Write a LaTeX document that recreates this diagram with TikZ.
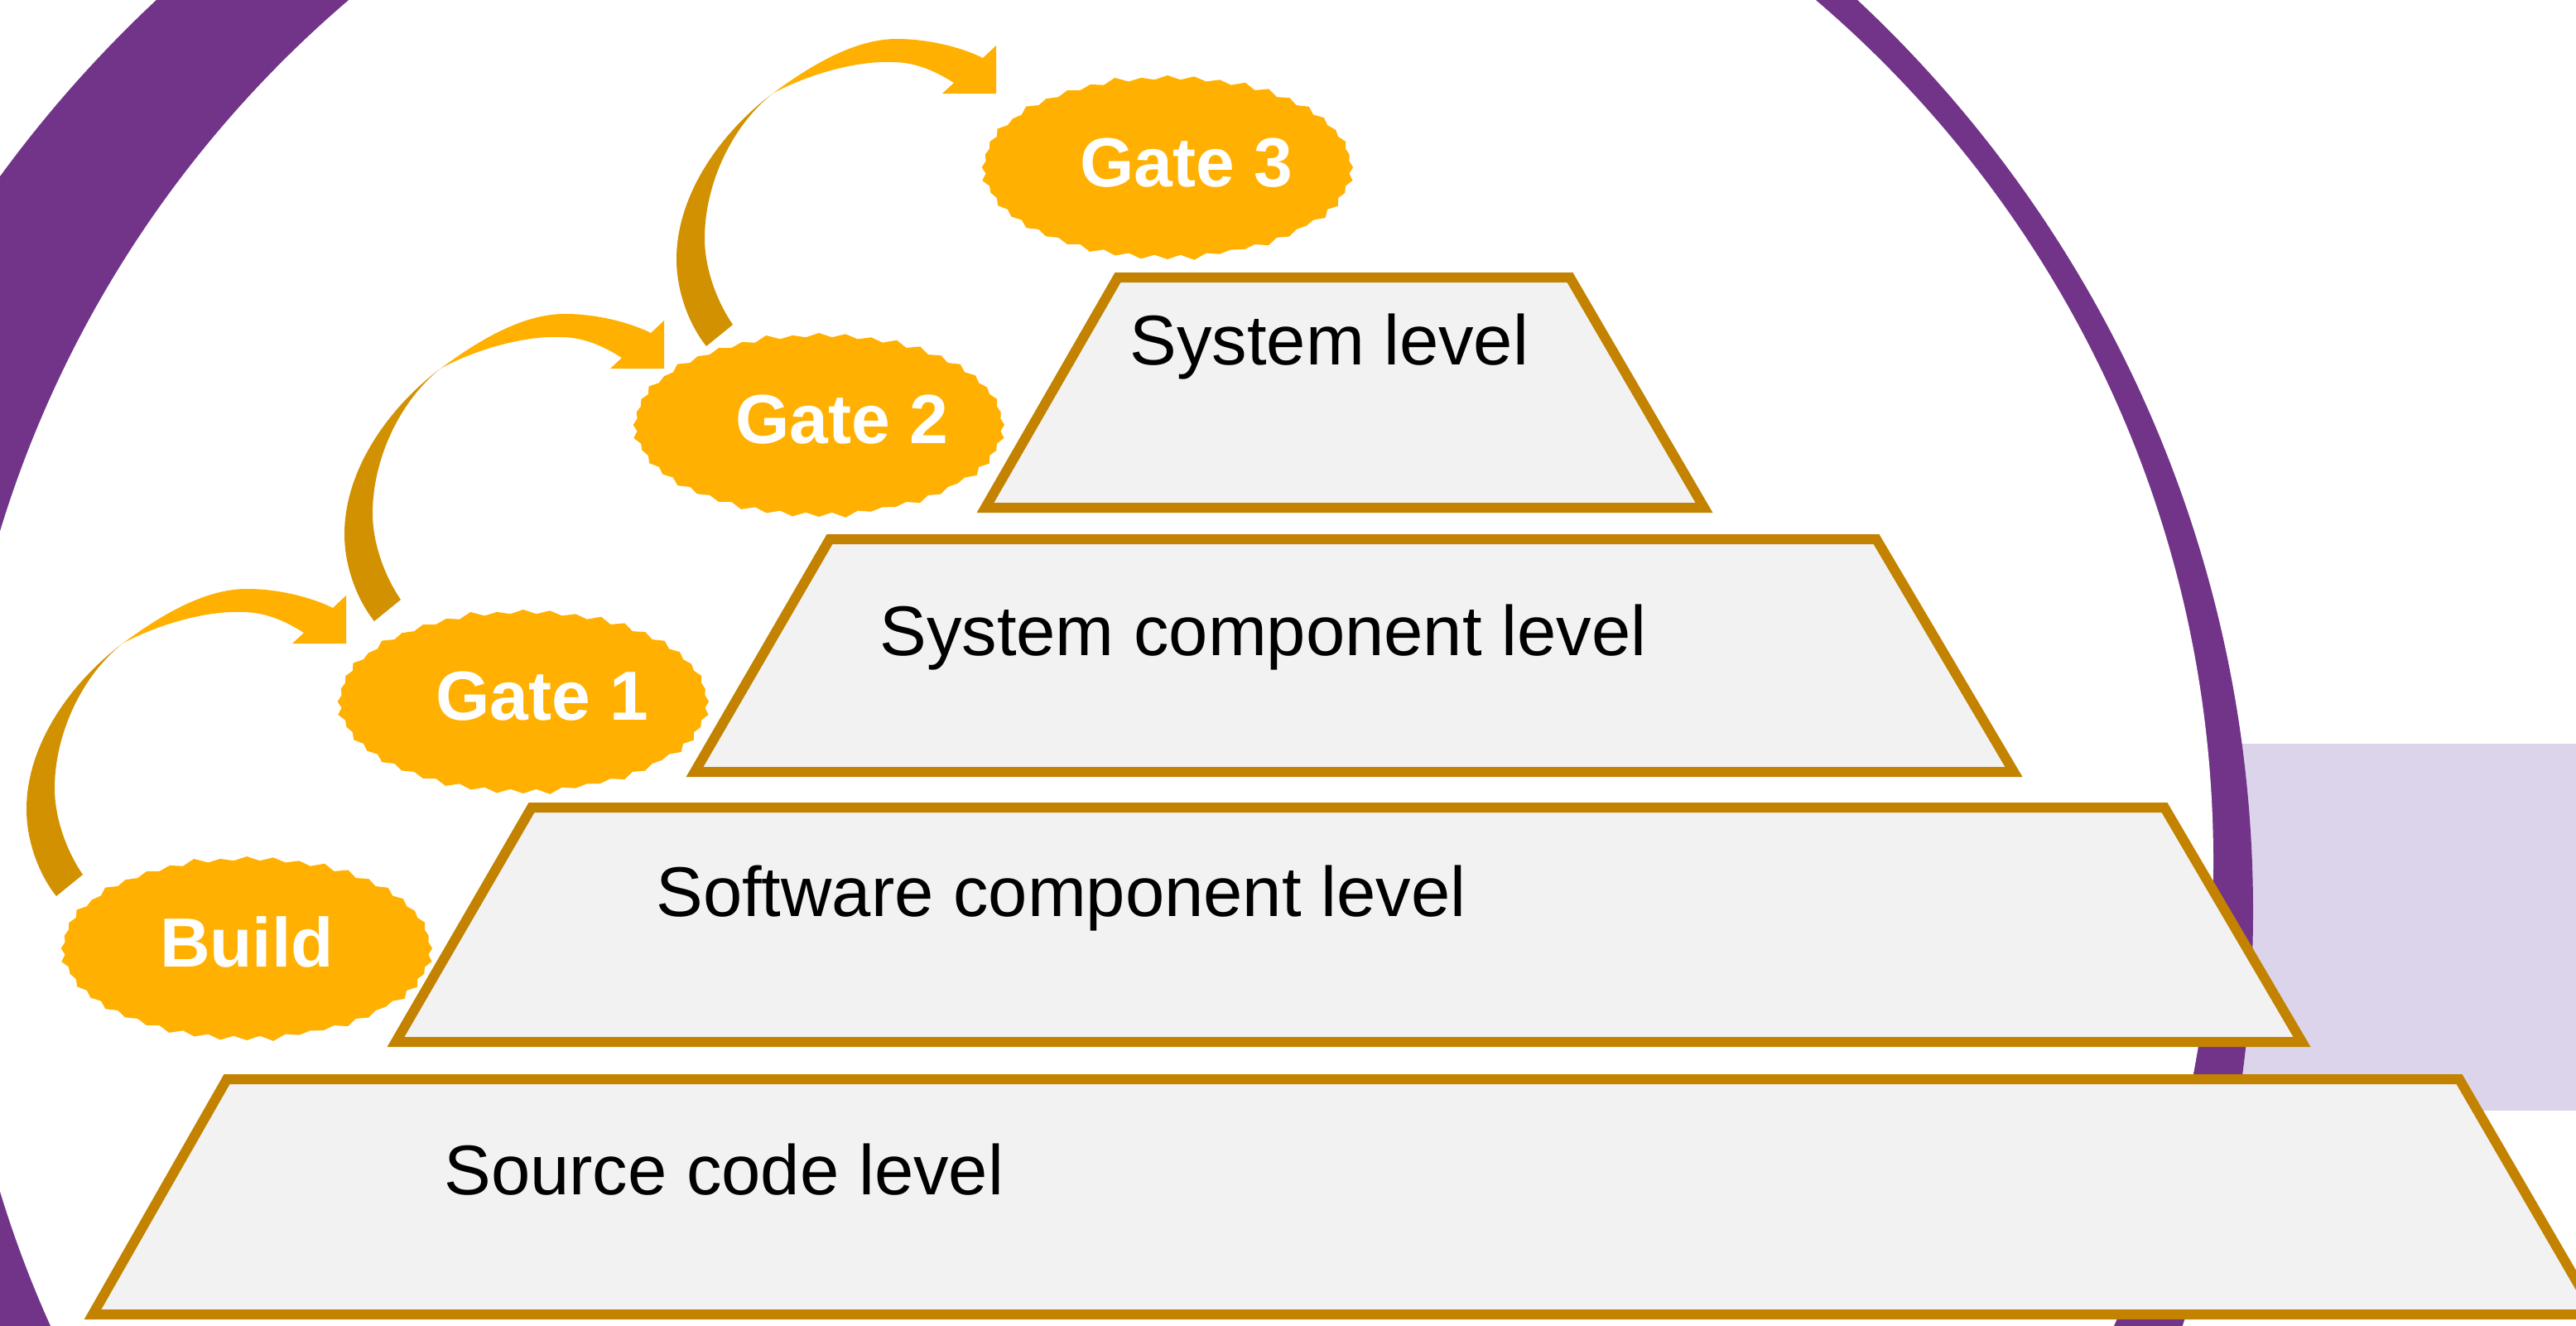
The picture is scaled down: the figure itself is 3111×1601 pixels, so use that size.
\documentclass[tikz,border=0pt]{standalone}
\usepackage{fontspec}
\setmainfont{Liberation Sans}
\usetikzlibrary{shapes.symbols}
\definecolor{ringpurple}{RGB}{113,52,137}
\definecolor{lavender}{RGB}{220,212,235}
\definecolor{goldline}{RGB}{195,130,0}
\definecolor{levelfill}{RGB}{242,242,242}
\definecolor{gateorange}{RGB}{255,176,0}
\definecolor{darkgold}{RGB}{210,145,0}
\newcommand{\curvedarrow}[1]{%
\begin{scope}[shift={(#1)}]
% orange upper band with arrow head
\fill[gateorange] (-270,0) .. controls (-215,-41) and (-165,-66) .. (-120,-66)
  .. controls (-80,-66) and (-40,-55) .. (-16,-43)
  -- (0,-58) -- (0,0) -- (-65,0) -- (-51,-13)
  .. controls (-70,-25) and (-95,-38) .. (-125,-38)
  .. controls (-170,-40) and (-230,-22) .. (-270,0) -- cycle;
% dark lower band
\fill[darkgold] (-270,0) .. controls (-330,45) and (-386,120) .. (-386,200)
  .. controls (-386,240) and (-370,280) .. (-350,305)
  -- (-318,279)
  .. controls (-338,250) and (-352,210) .. (-352,175)
  .. controls (-352,110) and (-320,40) .. (-270,0) -- cycle;
\end{scope}}
\begin{document}
\begin{tikzpicture}[x=0.5pt,y=-0.5pt,
  level/.style={draw=goldline, line width=6pt, fill=levelfill, line join=miter},
  leveltext/.style={anchor=base west, inner sep=0pt, font=\fontsize{42.5}{50}\selectfont, text=black},
  gate/.style={starburst, starburst points=44, starburst point height=3.5pt, fill=gateorange, draw=none, inner sep=0pt, minimum width=227pt, minimum height=113pt},
  gatetext/.style={anchor=base, inner sep=0pt, font=\fontsize{42}{50}\selectfont\bfseries, text=white}]
\useasboundingbox (0,0) rectangle (3111,1601);
\fill[white] (0,0) rectangle (3111,1601);
% background: lavender band and purple ring
\fill[lavender] (2600,898) rectangle (3111,1341);
\fill[ringpurple] (1216,1100) circle[radius=752.5pt];
\fill[white] (1307,1040) circle[radius=683pt];
% levels
\draw[level] (274,1303) -- (2970,1303) -- (3135,1587) -- (112,1587) -- cycle;
\draw[level] (642,975) -- (2614,975) -- (2780,1258) -- (478,1258) -- cycle;
\draw[level] (1002,651) -- (2266,651) -- (2432,932) -- (839,932) -- cycle;
\draw[level] (1350,335) -- (1896,335) -- (2058,613) -- (1190,613) -- cycle;
\node[leveltext] (lv1) at (536,1442) {Source code level};
\node[leveltext] (lv2) at (792,1106) {Software component level};
\node[leveltext] (lv3) at (1062,791) {System component level};
\node[leveltext] (lv4) at (1364,440) {System level};
% gates
\node[gate] (build) at (298,1145) {};
\node[gate] (g1) at (632,847) {};
\node[gate] (g2) at (989,513) {};
\node[gate] (g3) at (1410,202) {};
\node[gatetext] (buildt) at (298,1167) {Build};
\node[gatetext] (g1t) at (655,869) {Gate 1};
\node[gatetext] (g2t) at (1017,535) {Gate 2};
\node[gatetext] (g3t) at (1433,225) {Gate 3};
% curved arrows
\coordinate (a1) at (418,777);
\coordinate (a2) at (802,445);
\coordinate (a3) at (1203,113);
\curvedarrow{a1}
\curvedarrow{a2}
\curvedarrow{a3}
\end{tikzpicture}
\end{document}
